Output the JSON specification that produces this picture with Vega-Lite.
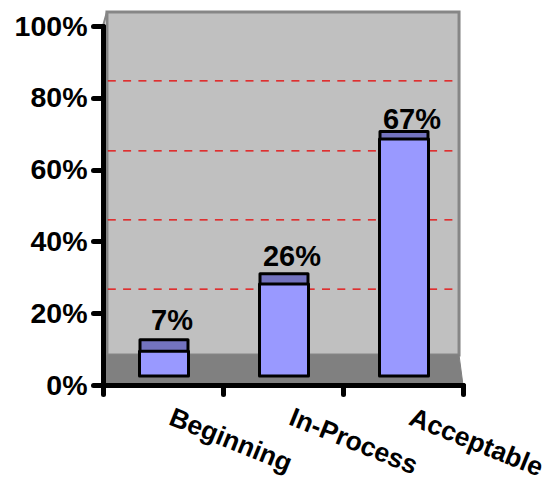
{
"$schema":"https://vega.github.io/schema/vega-lite/v6.json",
"width":360,"height":359,
"autosize":{"type":"none"},
"padding":{"left":103,"top":26,"right":84,"bottom":94},
"background":"white",
"config":{"view":{"stroke":null},"font":"Liberation Sans"},
"datasets":{
"bars":[{"category":"Beginning","value":7,"label":"7%"},{"category":"In-Process","value":26,"label":"26%"},{"category":"Acceptable","value":67,"label":"67%"}],
"wall":[{"x0":0.033,"x1":2.967,"y0":8.36,"y1":103.9}],
"side":[{"x":0,"low":0,"high":100},{"x":0.033,"low":8.36,"high":103.9}],
"floor":[{"x":0,"top":0,"bottom":0},{"x":0.033,"top":8.36,"bottom":0},{"x":2.967,"top":8.36,"bottom":0},{"x":3,"top":0,"bottom":0}],
"grid":[{"x":0.04,"y":84.7,"g":"g80"},{"x":2.96,"y":84.7,"g":"g80"},{"x":0.04,"y":65.2,"g":"g60"},{"x":2.96,"y":65.2,"g":"g60"},{"x":0.04,"y":46,"g":"g40"},{"x":2.96,"y":46,"g":"g40"},{"x":0.04,"y":26.7,"g":"g20"},{"x":2.96,"y":26.7,"g":"g20"}]
},
"resolve":{"scale":{"x":"independent","y":"independent"},"axis":{"x":"independent","y":"independent"}},
"layer":[
{"data":{"name":"wall"},"mark":{"type":"rect","fill":"#c0c0c0","stroke":"#868686","strokeWidth":3},
 "encoding":{"x":{"field":"x0","type":"quantitative","scale":{"domain":[0,3],"nice":false,"zero":false},"axis":null},"x2":{"field":"x1"},
 "y":{"field":"y0","type":"quantitative","scale":{"domain":[0,100],"nice":false,"zero":false},"axis":null},"y2":{"field":"y1"}}},
{"data":{"name":"side"},"mark":{"type":"area","fill":"#d4d4d4","stroke":"#868686","strokeWidth":2},
 "encoding":{"x":{"field":"x","type":"quantitative","scale":{"domain":[0,3],"nice":false,"zero":false},"axis":null},
 "y":{"field":"low","type":"quantitative","stack":null,"scale":{"domain":[0,100],"nice":false,"zero":false},"axis":null},"y2":{"field":"high"}}},
{"data":{"name":"grid"},"mark":{"type":"line","stroke":"#e80000","strokeWidth":1.3,"strokeDash":[8,7.3]},
 "encoding":{"x":{"field":"x","type":"quantitative","scale":{"domain":[0,3],"nice":false,"zero":false},"axis":null},
 "y":{"field":"y","type":"quantitative","scale":{"domain":[0,100],"nice":false,"zero":false},"axis":null},"detail":{"field":"g"}}},
{"data":{"name":"floor"},"mark":{"type":"area","fill":"#808080","stroke":"#808080","strokeWidth":1},
 "encoding":{"x":{"field":"x","type":"quantitative","scale":{"domain":[0,3],"nice":false,"zero":false},"axis":null},
 "y":{"field":"top","type":"quantitative","stack":null,"scale":{"domain":[0,100],"nice":false,"zero":false},
  "axis":{"values":[0,20,40,60,80,100],"labelExpr":"datum.value+'%'","title":null,"grid":false,"domainWidth":5,"domainColor":"#000000","domainCap":"round","tickWidth":5,"tickSize":10,"tickColor":"#000000","tickCap":"round","labelFont":"Liberation Sans","labelFontWeight":"bold","labelFontSize":28.5,"labelColor":"#000000","labelPadding":6,"labelOverlap":false,"labelBound":false,"labelFlush":false,"zindex":2}},"y2":{"field":"bottom"}}},
{"data":{"name":"bars"},"mark":{"type":"bar","fill":"#7373bf","stroke":"#000000","strokeWidth":3,"size":48,"xOffset":1,"strokeJoin":"round"},
 "encoding":{"x":{"field":"category","type":"nominal","sort":null,"scale":{"padding":0},"axis":null},
 "y":{"field":"value","type":"quantitative","stack":null,"scale":{"domain":[-6.05,97.4],"nice":false,"zero":false},"axis":null}}},
{"data":{"name":"bars"},"mark":{"type":"bar","fill":"#9999ff","stroke":"#000000","strokeWidth":3,"size":49,"xOffset":1,"strokeJoin":"round"},
 "encoding":{"x":{"field":"category","type":"nominal","sort":null,"scale":{"padding":0},
  "axis":{"title":null,"tickBand":"extent","grid":false,"domainWidth":5,"domainColor":"#000000","domainCap":"round","tickWidth":5,"tickSize":9,"tickColor":"#000000","tickCap":"round","labelFont":"Liberation Sans","labelFontWeight":"bold","labelFontSize":26.5,"labelColor":"#000000","labelAngle":22,"labelAlign":"left","labelBaseline":"middle","labelPadding":22,"labelOffset":7,"labelOverlap":false,"labelBound":false,"labelFlush":false,"zindex":2}},
 "y":{"field":"value","type":"quantitative","stack":null,"scale":{"domain":[-2.54,98.9],"nice":false,"zero":false},"axis":null}}},
{"data":{"name":"bars"},"mark":{"type":"text","font":"Liberation Sans","fontWeight":"bold","fontSize":29,"color":"#000000","baseline":"alphabetic","align":"center","dx":9},
 "encoding":{"x":{"field":"category","type":"nominal","sort":null,"bandPosition":0.5,"scale":{"type":"band","padding":0},"axis":null},
 "y":{"field":"value","type":"quantitative","stack":null,"scale":{"domain":[-9.4,97.8],"nice":false,"zero":false},"axis":null},"text":{"field":"label"}}}
]
}
